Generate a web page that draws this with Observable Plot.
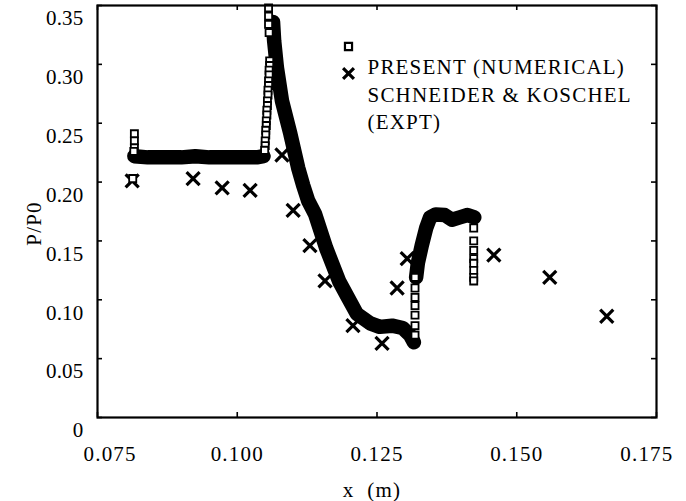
<!DOCTYPE html>
<html>
<head>
<meta charset="utf-8">
<script src="https://cdn.jsdelivr.net/npm/d3@7"></script>
<script src="https://cdn.jsdelivr.net/npm/@observablehq/plot@0.6"></script>
<style>
  body { margin: 0; background: #fff; }
  svg { display: block; }
  g.ylab text, g.ylab { letter-spacing: 0.2px; }
</style>
</head>
<body>
<div id="chart"></div>
<script>
// ---------- data ----------
const xTicks = [0.075, 0.100, 0.125, 0.150, 0.175];
const yTicks = [0, 0.05, 0.10, 0.15, 0.20, 0.25, 0.30, 0.35];
const xTickLabels = ["0.075", "0.100", "0.125", "0.150", "0.175"];
const yTickLabels = ["0", "0.05", "0.10", "0.15", "0.20", "0.25", "0.30", "0.35"];
const legendLabels = ["PRESENT (NUMERICAL)", "SCHNEIDER & KOSCHEL", "(EXPT)"];

// Schneider & Koschel experiment (crosses)
const exptX = [0.0812, 0.0921, 0.0973, 0.1023, 0.1080, 0.1100, 0.1130, 0.1157, 0.1207, 0.1259, 0.1286, 0.1304, 0.1459, 0.1559, 0.1661];
const exptY = [0.201, 0.203, 0.195, 0.193, 0.223, 0.176, 0.146, 0.116, 0.078, 0.063, 0.110, 0.135, 0.138, 0.119, 0.086];

// Present numerical: dense band parts
const plateauX = [0.0816, 0.0840, 0.0870, 0.0900, 0.0925, 0.0950, 0.0980, 0.1010, 0.1035, 0.1047];
const plateauY = [0.222, 0.221, 0.221, 0.221, 0.222, 0.221, 0.221, 0.221, 0.221, 0.222];
const descentX = [0.1064, 0.1066, 0.1071, 0.1080, 0.1095, 0.1109, 0.1118, 0.1127, 0.1139, 0.1159, 0.1182, 0.1198, 0.1214, 0.1238, 0.1255, 0.1277, 0.1296, 0.1309, 0.1316];
const descentY = [0.336, 0.320, 0.297, 0.269, 0.241, 0.212, 0.197, 0.184, 0.173, 0.144, 0.116, 0.102, 0.088, 0.080, 0.077, 0.078, 0.076, 0.070, 0.064];
const shelfX = [0.1320, 0.1323, 0.1330, 0.1338, 0.1345, 0.1355, 0.1371, 0.1384, 0.1398, 0.1412, 0.1424];
const shelfY = [0.119, 0.131, 0.146, 0.161, 0.170, 0.1725, 0.172, 0.168, 0.170, 0.172, 0.170];

// Present numerical: columns of single squares
const startColX = [0.0816, 0.0816, 0.0816, 0.0815, 0.0813];
const startColY = [0.241, 0.235, 0.229, 0.226, 0.203];
const shockColX = [0.1058, 0.1058, 0.1057, 0.1057, 0.1056, 0.1056, 0.1055, 0.1055, 0.1054, 0.1054, 0.1053, 0.1053, 0.1052, 0.1052, 0.1051, 0.1051, 0.1050, 0.1050, 0.1049];
const shockColY = [0.303, 0.299, 0.295, 0.291, 0.286, 0.282, 0.278, 0.274, 0.269, 0.265, 0.261, 0.257, 0.252, 0.248, 0.244, 0.240, 0.235, 0.231, 0.227];
const peakColX = [0.1056, 0.1056, 0.1056, 0.1057];
const peakColY = [0.348, 0.341, 0.334, 0.327];
const riseColX = [0.1318, 0.1318, 0.1318, 0.1318, 0.1318, 0.1318, 0.1318];
const riseColY = [0.070, 0.078, 0.087, 0.095, 0.102, 0.110, 0.119];
const dropColX = [0.1423, 0.1423, 0.1423, 0.1423, 0.1423, 0.1423, 0.1423, 0.1423];
const dropColY = [0.161, 0.150, 0.142, 0.135, 0.131, 0.125, 0.119, 0.116];

// ---------- build tables ----------
const pts = (xs, ys, seg) => xs.map((x, i) => ({x, y: ys[i], seg}));
const expt = pts(exptX, exptY, "expt");
const band = [...pts(plateauX, plateauY, "a"), ...pts(descentX, descentY, "b"), ...pts(shelfX, shelfY, "c")];
const cols = [...pts(startColX, startColY, "s"), ...pts(shockColX, shockColY, "k"), ...pts(peakColX, peakColY, "p"),
              ...pts(riseColX, riseColY, "r"), ...pts(dropColX, dropColY, "d")];

const FONT = "'Liberation Serif', 'Times New Roman', 'DejaVu Serif', serif";
const W = 686, H = 501, ML = 97, MR = 30, MT = 5, MB = 84;
const innerW = W - ML - MR, innerH = H - MT - MB;

const chart = Plot.plot({
  width: W, height: H,
  marginLeft: ML, marginRight: MR, marginTop: MT, marginBottom: MB,
  style: {fontFamily: FONT, fontSize: "21px", letterSpacing: "1.2px", background: "#fff", color: "#000", overflow: "visible"},
  x: {domain: [0.075, 0.175], axis: null},
  y: {domain: [0, 0.35], axis: null},
  marks: [
    // inward ticks on all four sides
    Plot.tickX(xTicks, {x: d => d, insetTop: innerH - 5, stroke: "#000", strokeWidth: 1.6}),
    Plot.tickX(xTicks, {x: d => d, insetBottom: innerH - 5, stroke: "#000", strokeWidth: 1.6}),
    Plot.tickY(yTicks, {y: d => d, insetRight: innerW - 5, stroke: "#000", strokeWidth: 1.6}),
    Plot.tickY(yTicks, {y: d => d, insetLeft: innerW - 5, stroke: "#000", strokeWidth: 1.6}),
    // tick labels
    Plot.text(xTicks.slice(1, -1), {x: d => d, text: (d, i) => xTickLabels[i + 1], frameAnchor: "bottom", lineAnchor: "middle", dy: 37}),
    Plot.text(xTicks.slice(0, 1), {x: d => d, text: () => xTickLabels[0], frameAnchor: "bottom", lineAnchor: "middle", textAnchor: "start", dx: -14, dy: 37}),
    Plot.text(xTicks.slice(-1), {x: d => d, text: () => xTickLabels[xTickLabels.length - 1], frameAnchor: "bottom", lineAnchor: "middle", textAnchor: "end", dx: 17, dy: 37}),
    Plot.text(yTicks, {y: d => d, text: (d, i) => yTickLabels[i], frameAnchor: "left", lineAnchor: "middle", textAnchor: "end", dx: -14, dy: 13, className: "ylab"}),
    // axis titles
    Plot.text(["P/P0"], {frameAnchor: "left", textAnchor: "middle", lineAnchor: "middle", dx: -63, dy: 12, rotate: -90}),
    Plot.text(["x\u00a0\u00a0(m)"], {frameAnchor: "bottom", textAnchor: "middle", lineAnchor: "middle", dx: -5, dy: 73}),
    // experiment crosses
    Plot.dot(expt, {x: "x", y: "y", symbol: "times", r: 6, stroke: "#000", strokeWidth: 3.2}),
    // numerical band
    Plot.line(band, {x: "x", y: "y", z: "seg", stroke: "#000", strokeWidth: 14.5, curve: "linear"}),
    Plot.dot(band, {x: "x", y: "y", symbol: "square", r: 4.4, stroke: "#000", strokeWidth: 2}),
    Plot.dot(cols, {x: "x", y: "y", symbol: "square", r: 4, fill: "#fff", stroke: "#000", strokeWidth: 1.8}),
    // legend
    Plot.dot([legendLabels[0]], {frameAnchor: "top-left", dx: 251, dy: 41, symbol: "square", r: 4, stroke: "#000", strokeWidth: 2.2}),
    Plot.dot([legendLabels[1]], {frameAnchor: "top-left", dx: 251, dy: 68, symbol: "times", r: 5, stroke: "#000", strokeWidth: 3.2}),
    Plot.text([legendLabels.join("\n")], {frameAnchor: "top-left", textAnchor: "start", lineAnchor: "middle", lineHeight: 1.31, dx: 270, dy: 87.5, fontSize: 21}),
    // frame
    Plot.frame({stroke: "#000", strokeWidth: 2.2})
  ]
});
document.getElementById("chart").appendChild(chart);
</script>
</body>
</html>
